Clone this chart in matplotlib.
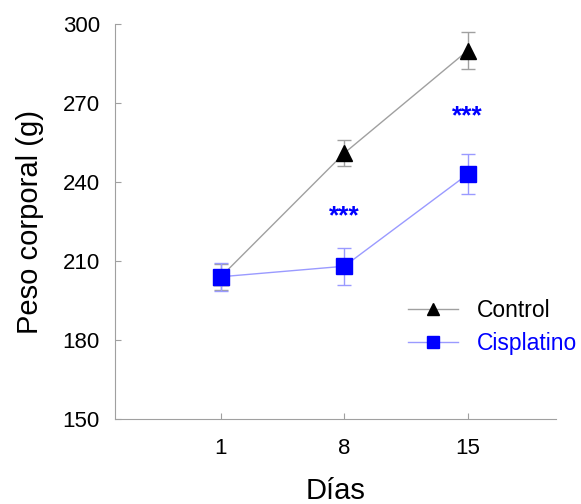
import matplotlib
matplotlib.use("Agg")
import matplotlib.pyplot as plt

plt.rcParams['font.family'] = ['Liberation Sans', 'DejaVu Sans']

days = [1, 8, 15]
control = [204, 251, 290]
control_err = [5, 5, 7]
cis = [204, 208, 243]
cis_err = [5.3, 7, 7.7]
stars_x = [8, 15]
stars_y = [227, 265]
yticks = [150, 180, 210, 240, 270, 300]

fig = plt.figure(figsize=(5.81, 5.04), dpi=100)
ax = fig.add_axes([0.198, 0.169, 0.759, 0.783])

ax.errorbar(days, control, yerr=control_err, color='#a0a0a0', lw=1, ecolor='#a0a0a0',
            elinewidth=1, capsize=4.7, capthick=1, marker='^', ms=11, mfc='black', mec='black',
            label='Control', zorder=2)
ax.errorbar(days, cis, yerr=cis_err, color='#9a9aff', lw=1, ecolor='#9a9aff',
            elinewidth=1, capsize=4.7, capthick=1, marker='s', ms=11, mfc='#0000ff', mec='#0000ff',
            label='Cisplatino', zorder=3)

for x, y in zip(stars_x, stars_y):
    ax.text(x, y, '***', color='#0000ff', fontsize=19, fontweight='bold', ha='center', va='center')

ax.set_xlim(-5, 20)
ax.set_ylim(150, 300)
ax.set_xticks(days)
ax.set_yticks(yticks)
ax.tick_params(direction='in', length=4.5, color='#a0a0a0', labelsize=16)
ax.tick_params(axis='y', pad=11)
ax.tick_params(axis='x', pad=14)
for s in ['top', 'right']:
    ax.spines[s].set_visible(False)
for s in ['left', 'bottom']:
    ax.spines[s].set_color('#a0a0a0')

ax.set_xlabel('Días', fontsize=21, labelpad=13)
ax.set_ylabel('Peso corporal (g)', fontsize=21, labelpad=13)

handles, labels = ax.get_legend_handles_labels()
h2 = [h[0] for h in handles]
leg = ax.legend(h2, labels, loc='center left', bbox_to_anchor=(0.664, 0.232), frameon=False,
                fontsize=16.5, handlelength=2.2, handletextpad=0.83, labelspacing=0.45,
                borderpad=0, borderaxespad=0,
                labelcolor=['black', '#0000ff'], markerscale=0.85)

fig.savefig('out.png', dpi=100)
